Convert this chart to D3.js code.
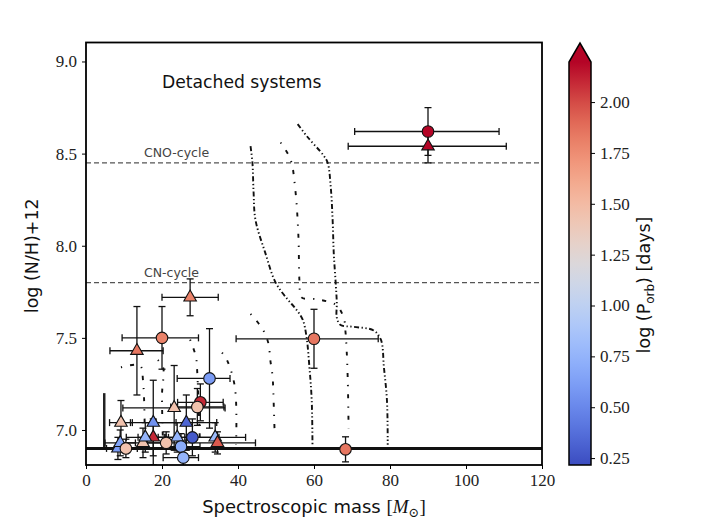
<!DOCTYPE html>
<html>
<head>
<meta charset="utf-8">
<script src="https://cdn.jsdelivr.net/npm/d3@7"></script>
<style>
  body { margin: 0; background: #fff; }
</style>
</head>
<body>
<div id="chart"></div>
<script>
// ---- data ----
// stars: spectroscopic mass, its errors, log(N/H)+12, its error, log(P_orb), marker
const starMass   = [90, 90, 60, 68.3, 27.4, 20.0, 13.4, 32.5, 30.1, 29.3, 23.2, 9.2, 17.7, 26.4, 28.0, 17.7, 24.0, 21.1, 25.0, 25.6, 34.0, 34.6, 15.0, 8.4, 9.0, 10.5, 15.6];
const massErrLo  = [19.3, 21, 20.5, 0, 7.4, 10.5, 7.1, 8.5, 6, 7, 13.5, 3, 6, 8, 7, 4, 5, 5, 5, 5.3, 8, 10, 6, 3, 4, 3, 5];
const massErrHi  = [18.7, 20.6, 16.9, 0, 7.4, 9.6, 6.9, 5.4, 6, 7, 13.4, 3, 6, 8, 7, 4, 5, 5, 5, 4, 8, 10, 6, 3, 4, 3, 5];
const logNH      = [8.62, 8.54, 7.495, 6.895, 7.72, 7.50, 7.43, 7.28, 7.15, 7.125, 7.12, 7.04, 7.04, 7.04, 6.96, 6.96, 6.96, 6.93, 6.91, 6.85, 6.96, 6.93, 6.93, 6.90, 6.93, 6.90, 6.96];
const logNHErr   = [0.13, 0.09, 0.16, 0.068, 0.10, 0.17, 0.24, 0.27, 0.10, 0.10, 0.23, 0.12, 0.23, 0.15, 0.10, 0.10, 0.08, 0.06, 0.07, 0.05, 0.08, 0.06, 0.08, 0.06, 0.07, 0.05, 0.08];
const logPorb    = [2.3, 2.3, 1.85, 1.85, 1.8, 1.8, 1.85, 0.6, 2.1, 1.45, 1.45, 1.45, 0.55, 0.33, 0.28, 2.1, 0.75, 1.45, 0.7, 0.75, 0.8, 1.95, 1.45, 0.6, 0.65, 1.45, 0.75];
const markerKind = ["o", "^", "o", "o", "^", "o", "^", "o", "o", "o", "^", "^", "^", "^", "o", "^", "^", "o", "o", "o", "^", "^", "^", "^", "^", "o", "^"];

// evolutionary tracks [mass, log(N/H)+12]
const trackA = [[43.3,8.54],[43.8,8.45],[44.1,8.29],[44.6,8.14],[47.2,7.96],[49.9,7.80],[53.0,7.71],[55.1,7.66],[57.0,7.60],[58.0,7.51],[58.8,7.34],[59.4,7.16],[59.6,6.92]];
const trackB = [[55.7,8.66],[58.3,8.59],[62.5,8.49],[63.6,8.45],[64.4,8.32],[64.9,8.14],[65.2,7.96],[65.7,7.80],[66.0,7.69],[66.0,7.61],[67.0,7.57],[70.4,7.56],[75.7,7.54],[77.6,7.49],[78.4,7.34],[79.2,7.16],[79.4,6.92]];
const trackC = [[51.2,8.56],[53.8,8.47],[55.1,8.30],[55.9,8.05],[56.2,7.80],[56.7,7.72],[60.4,7.71],[65.7,7.68],[67.8,7.61],[68.3,7.53],[68.6,7.43],[68.9,7.26],[69.1,7.01]];
const trackD = [[43.3,7.63],[46.4,7.55],[48.0,7.47],[48.5,7.38],[49.1,7.29],[49.3,7.20],[49.6,7.01]];
const trackE = [[35.8,7.42],[37.1,7.38],[39.2,7.23],[39.5,6.92]];
const trackF = [[27.4,7.49],[28.9,7.40],[29.2,7.34],[30.0,6.92]];
const trackG = [[9.2,7.34],[14.2,7.35],[15.0,7.27],[15.5,6.91]];
const trackH = [[18.9,7.38],[20.3,7.34],[20.0,7.19],[20.3,6.91]];
const limitBar = [[4.8,6.9],[4.8,7.2]];

// reference levels
const cycleNames  = ["CNO-cycle", "CN-cycle"];
const cycleLevels = [8.45, 7.80];
const floorLevel  = 6.9;

const xTicks = [0, 20, 40, 60, 80, 100, 120];
const yTicks = [7.0, 7.5, 8.0, 8.5, 9.0];
const cTicks = [0.25, 0.50, 0.75, 1.00, 1.25, 1.50, 1.75, 2.00];

// coolwarm anchors
const coolwarm = ["#3b4cc0", "#6282ea", "#8db0fe", "#b8d0f9", "#dddddd", "#f5c4ad", "#f49a7b", "#de604d", "#b40426"];

document.addEventListener('DOMContentLoaded', () => {

    const width = 707, height = 527;
    const serif = "'Liberation Serif', 'DejaVu Serif', serif";
    const sans = "'DejaVu Sans', sans-serif";

    const x = d3.scaleLinear().domain([0, 120]).range([86, 542]);
    const y = d3.scaleLinear().domain([6.81, 9.103]).range([465, 42.5]);
    const cInterp = d3.interpolateRgbBasis(coolwarm);
    const color = d3.scaleSequential(cInterp).domain([0.216, 2.197]).clamp(true);

    const svg = d3.select("#chart").append("svg")
        .attr("width", width)
        .attr("height", height);

    const defs = svg.append("defs");
    defs.append("clipPath").attr("id", "plotclip")
      .append("rect")
        .attr("x", x(0)).attr("y", y.range()[1])
        .attr("width", x(120) - x(0)).attr("height", y.range()[0] - y.range()[1]);

    const plot = svg.append("g").attr("clip-path", "url(#plotclip)");

    // dashed cycle lines + labels
    plot.selectAll(".cycle")
      .data(cycleLevels)
      .join("line")
        .attr("x1", x(0)).attr("x2", x(120))
        .attr("y1", d => y(d)).attr("y2", d => y(d))
        .attr("stroke", "#555")
        .attr("stroke-width", 1.3)
        .attr("stroke-dasharray", "5,3");

    svg.selectAll(".cyclelabel")
      .data(cycleNames)
      .join("text")
        .attr("x", 144)
        .attr("y", (d, i) => y(cycleLevels[i]) - 6)
        .attr("font-family", sans)
        .attr("font-size", 12.5)
        .attr("fill", "#444")
        .text(d => d);

    // tracks
    const line = d3.line().x(d => x(d[0])).y(d => y(d[1])).curve(d3.curveCatmullRom);
    const dense = "5,2.5,1.3,2.5,1.3,2.5";
    const loose = "1.3,8,4,8";
    const tracks = [
      [trackA, dense], [trackB, dense], [trackC, loose], [trackD, loose],
      [trackE, loose], [trackF, loose], [trackG, loose], [trackH, loose]
    ];
    plot.selectAll(".track")
      .data(tracks)
      .join("path")
        .attr("d", d => line(d[0]))
        .attr("fill", "none")
        .attr("stroke", "#111")
        .attr("stroke-width", 1.9)
        .attr("stroke-dasharray", d => d[1]);

    plot.append("path")
        .attr("d", d3.line().x(d => x(d[0])).y(d => y(d[1]))(limitBar))
        .attr("stroke", "#222")
        .attr("stroke-width", 2.5);

    // floor line
    plot.append("line")
        .attr("x1", x(0)).attr("x2", x(120))
        .attr("y1", y(floorLevel)).attr("y2", y(floorLevel))
        .attr("stroke", "#111")
        .attr("stroke-width", 3);

    // error bars
    const stars = starMass.map((m, i) => ({
      m, lo: massErrLo[i], hi: massErrHi[i], v: logNH[i], ve: logNHErr[i], p: logPorb[i], k: markerKind[i]
    }));
    const cap = 3.5;
    const bars = plot.append("g").attr("stroke", "#111").attr("stroke-width", 1.3).attr("fill", "none");
    stars.forEach(s => {
      if (s.lo > 0 || s.hi > 0) {
        bars.append("line").attr("x1", x(s.m - s.lo)).attr("x2", x(s.m + s.hi)).attr("y1", y(s.v)).attr("y2", y(s.v));
        bars.append("line").attr("x1", x(s.m - s.lo)).attr("x2", x(s.m - s.lo)).attr("y1", y(s.v) - cap).attr("y2", y(s.v) + cap);
        bars.append("line").attr("x1", x(s.m + s.hi)).attr("x2", x(s.m + s.hi)).attr("y1", y(s.v) - cap).attr("y2", y(s.v) + cap);
      }
      bars.append("line").attr("x1", x(s.m)).attr("x2", x(s.m)).attr("y1", y(s.v - s.ve)).attr("y2", y(s.v + s.ve));
      bars.append("line").attr("x1", x(s.m) - cap).attr("x2", x(s.m) + cap).attr("y1", y(s.v - s.ve)).attr("y2", y(s.v - s.ve));
      bars.append("line").attr("x1", x(s.m) - cap).attr("x2", x(s.m) + cap).attr("y1", y(s.v + s.ve)).attr("y2", y(s.v + s.ve));
    });

    // markers
    const circleSym = d3.symbol().type(d3.symbolCircle).size(105);
    const triSym = d3.symbol().type(d3.symbolTriangle).size(68);
    plot.selectAll(".star")
      .data(stars)
      .join("path")
        .attr("transform", d => `translate(${x(d.m)},${y(d.v)})`)
        .attr("d", d => d.k === "o" ? circleSym() : triSym())
        .attr("fill", d => color(d.p))
        .attr("stroke", "#111")
        .attr("stroke-width", 1.1);

    // frame
    svg.append("rect")
        .attr("x", x(0)).attr("y", y.range()[1])
        .attr("width", x(120) - x(0)).attr("height", y.range()[0] - y.range()[1])
        .attr("fill", "none")
        .attr("stroke", "#000")
        .attr("stroke-width", 1.8);

    // axes
    const xAxis = svg.append("g")
        .attr("transform", `translate(0,${y.range()[0]})`)
        .call(d3.axisBottom(x).tickValues(xTicks).tickFormat(d3.format("d")).tickSize(4).tickPadding(5));
    const yAxis = svg.append("g")
        .attr("transform", `translate(${x(0)},0)`)
        .call(d3.axisLeft(y).tickValues(yTicks).tickFormat(d3.format(".1f")).tickSize(4).tickPadding(5));
    [xAxis, yAxis].forEach(g => {
      g.select(".domain").remove();
      g.selectAll("line").attr("stroke", "#000").attr("stroke-width", 1);
      g.selectAll("text").attr("font-family", serif).attr("font-size", 17).attr("fill", "#222");
    });

    svg.append("text")
        .attr("x", 162).attr("y", 88)
        .attr("font-family", sans)
        .attr("font-size", 17.2)
        .attr("fill", "#111")
        .text("Detached systems");

    // axis titles
    const xl = svg.append("text")
        .attr("x", (x(0) + x(120)) / 2).attr("y", 513)
        .attr("text-anchor", "middle")
        .attr("font-size", 18)
        .attr("fill", "#111");
    xl.append("tspan").attr("font-family", sans).text("Spectroscopic mass ");
    xl.append("tspan").attr("font-family", serif).attr("font-size", 19).text("[");
    xl.append("tspan").attr("font-family", serif).attr("font-size", 19).attr("font-style", "italic").text("M");
    xl.append("tspan").attr("font-family", serif).attr("font-size", 13).attr("dy", 4).text("\u2299");
    xl.append("tspan").attr("font-family", serif).attr("font-size", 19).attr("dy", -4).text("]");

    svg.append("text")
        .attr("transform", `translate(38,${(y.range()[0] + y.range()[1]) / 2 + 2}) rotate(-90)`)
        .attr("text-anchor", "middle")
        .attr("font-family", sans)
        .attr("font-size", 17.5)
        .attr("fill", "#111")
        .text("log (N/H)+12");

    // colorbar
    const cy = d3.scaleLinear().domain(color.domain()).range([465, 62]);
    const cbx = 569, cbw = 22, tipY = 43;
    const grad = defs.append("linearGradient").attr("id", "cbgrad")
        .attr("x1", 0).attr("x2", 0).attr("y1", 1).attr("y2", 0);
    d3.range(0, 1.0001, 0.05).forEach(t => {
      grad.append("stop").attr("offset", t).attr("stop-color", cInterp(t));
    });
    svg.append("rect")
        .attr("x", cbx).attr("y", cy.range()[1])
        .attr("width", cbw).attr("height", cy.range()[0] - cy.range()[1])
        .attr("fill", "url(#cbgrad)");
    svg.append("path")
        .attr("d", `M${cbx},${cy.range()[1]}L${cbx + cbw / 2},${tipY}L${cbx + cbw},${cy.range()[1]}Z`)
        .attr("fill", cInterp(1));
    svg.append("path")
        .attr("d", `M${cbx},${cy.range()[0]}L${cbx},${cy.range()[1]}L${cbx + cbw / 2},${tipY}L${cbx + cbw},${cy.range()[1]}L${cbx + cbw},${cy.range()[0]}Z`)
        .attr("fill", "none")
        .attr("stroke", "#000")
        .attr("stroke-width", 1.5);
    const cAxis = svg.append("g")
        .attr("transform", `translate(${cbx + cbw},0)`)
        .call(d3.axisRight(cy).tickValues(cTicks).tickFormat(d3.format(".2f")).tickSize(4).tickPadding(5));
    cAxis.select(".domain").remove();
    cAxis.selectAll("line").attr("stroke", "#000");
    cAxis.selectAll("text").attr("font-family", serif).attr("font-size", 17).attr("fill", "#222");

    const cl = svg.append("text")
        .attr("transform", `translate(650,285) rotate(-90)`)
        .attr("text-anchor", "middle")
        .attr("font-family", sans)
        .attr("font-size", 17.5)
        .attr("fill", "#111");
    cl.append("tspan").text("log (P");
    cl.append("tspan").attr("font-size", 12).attr("dy", 4).text("orb");
    cl.append("tspan").attr("dy", -4).text(") [days]");
});
</script>
</body>
</html>
